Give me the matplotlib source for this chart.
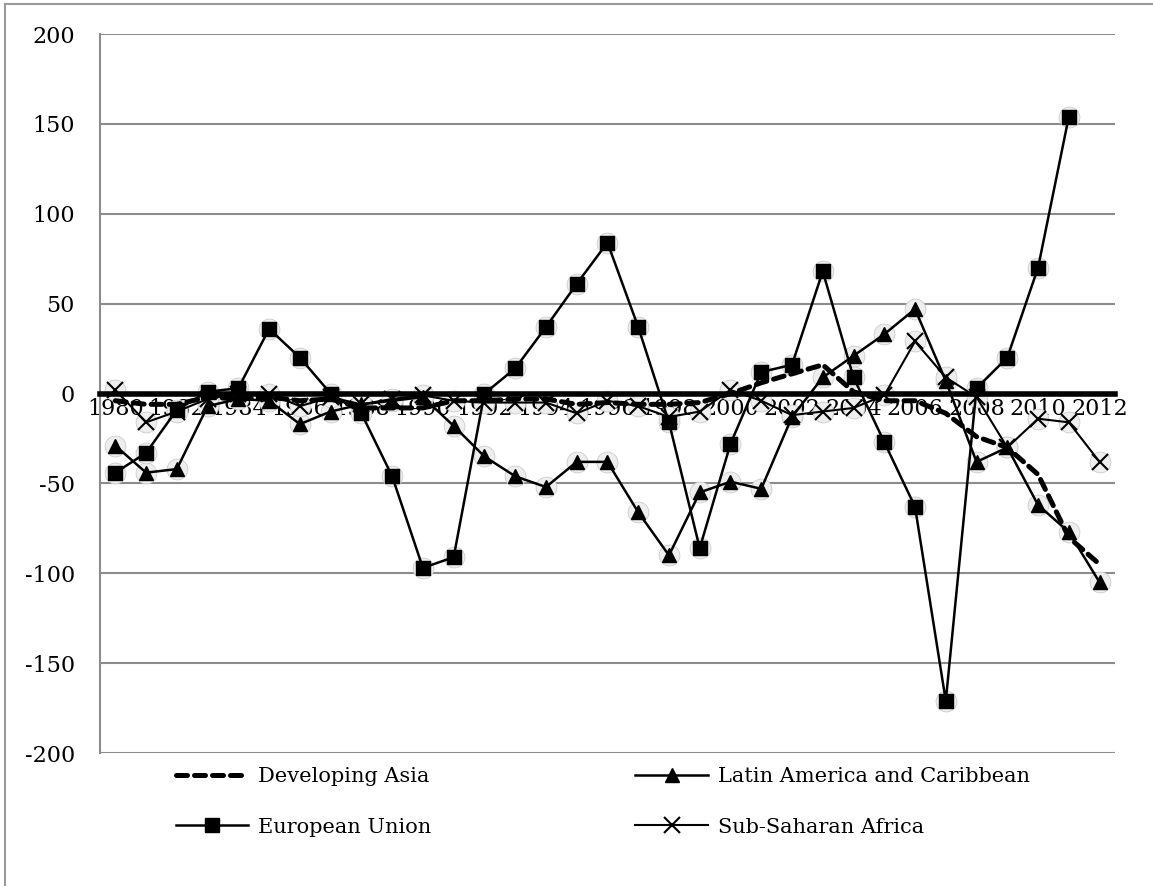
import matplotlib
matplotlib.use("Agg")
import matplotlib.pyplot as plt
from matplotlib.lines import Line2D

# ---- data ----
years = list(range(1980, 2013))

developing_asia = [-4, -6, -6, -2, -3, -2, -4, -3, -8, -8, -8, -4, -4, -3, -3,
                   -6, -5, -6, -6, -5, 0, 6, 11, 16, 1, -4, -4, -11, -24, -30,
                   -45, -80, -95]

latin_america = [-29, -44, -42, -7, -3, -4, -17, -10, -6, -4, -2, -18, -35, -46,
                 -52, -38, -38, -66, -90, -55, -49, -53, -13, 9, 21, 33, 47, 7,
                 -38, -30, -62, -77, -105]

# EU series stops at 2011
european_union = [-44, -33, -9, 1, 3, 36, 20, 0, -11, -46, -97, -91, 0, 14, 37,
                  61, 84, 37, -16, -86, -28, 12, 16, 68, 9, -27, -63, -171, 3,
                  20, 70, 154, None]

sub_saharan = [2, -16, -10, -3, 0, 0, -7, -2, -6, -3, -1, -4, -5, -5, -5, -11,
               -4, -7, -13, -10, 2, -4, -12, -10, -8, -1, 29, 9, -2, -30, -14,
               -16, -38]

yticks = [-200, -150, -100, -50, 0, 50, 100, 150, 200]

# ---- figure ----
fig = plt.figure(figsize=(11.53, 8.86), dpi=100)
ax = fig.add_axes([0.0867, 0.150, 0.8803, 0.8116])

xs = list(range(len(years)))
FONT = "DejaVu Serif"

# zero line = bottom spine; set position first (it resets the ticks)
for side in ["top", "right"]:
    ax.spines[side].set_visible(False)
ax.spines["left"].set_color("#8c8c8c")
ax.spines["left"].set_linewidth(1.5)
ax.spines["bottom"].set_position(("data", 0))
ax.spines["bottom"].set_color("black")
ax.spines["bottom"].set_linewidth(4)
ax.spines["bottom"].set_zorder(2.6)

def halo(vals):
    # faint grey glow behind the markers like in the original export
    px = [x for x, v in zip(xs, vals) if v is not None]
    py = [v for v in vals if v is not None]
    ax.plot(px, py, ls="none", marker="o", ms=15, mfc="#eeeeee",
            mec="#cccccc", mew=0.6, zorder=1.5)

for s in [latin_america, european_union, sub_saharan]:
    halo(s)

ax.plot(xs, developing_asia, color="black", lw=3.6, ls=(0, (2.2, 1.4)),
        dash_capstyle="round", label="Developing Asia", zorder=3)
ax.plot(xs, latin_america, color="black", lw=1.8, marker="^", ms=10,
        label="Latin America and Caribbean", zorder=3)
ax.plot(xs, european_union, color="black", lw=1.8, marker="s", ms=10,
        label="European Union", zorder=3)
ax.plot(xs, sub_saharan, color="black", lw=1.5, marker="x", ms=11, mew=1.5,
        label="Sub-Saharan Africa", zorder=3)

# ---- axes ----
ax.set_xlim(-0.5, len(years) - 0.5)
ax.set_ylim(-200, 200)
ax.set_yticks(yticks)
ax.set_yticklabels([str(v) for v in yticks], fontfamily=FONT, fontsize=16)
ax.yaxis.grid(True, color="#8c8c8c", lw=1.5)
ax.set_axisbelow(True)

ax.set_xticks(xs[::2])
ax.set_xticklabels([str(y) for y in years[::2]], fontfamily=FONT, fontsize=16)
ax.tick_params(axis="x", length=0, pad=3)
ax.tick_params(axis="y", length=0, pad=18)

# ---- legend (bottom, two columns) ----
h = ax.get_legend_handles_labels()[0]
handles = [h[0], h[2], h[1], h[3]]
labels = ["Developing Asia", "European Union",
          "Latin America and Caribbean", "Sub-Saharan Africa"]
fig.legend(handles, labels, loc="upper left", bbox_to_anchor=(0.136, 0.155),
           ncol=2, frameon=False, handlelength=3.5, columnspacing=9.8,
           labelspacing=1.5, handletextpad=0.45,
           prop={"family": FONT, "size": 15})

# thin outer frame (top and left edges only visible in the reference)
fig.add_artist(Line2D([0.0045, 1.0], [0.9955, 0.9955], transform=fig.transFigure,
                      color="#9a9a9a", lw=1.5))
fig.add_artist(Line2D([0.0045, 0.0045], [0.0, 0.9955], transform=fig.transFigure,
                      color="#9a9a9a", lw=1.5))

fig.savefig("out.png", dpi=100)
